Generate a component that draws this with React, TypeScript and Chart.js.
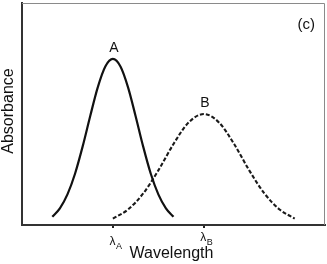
import { useEffect, useRef } from 'react';
import { Chart, registerables } from 'chart.js';

Chart.register(...registerables);

// Values (arbitrary units, 0..100 range)
const wavelengthA = [10, 12.5, 15, 17.5, 20, 22.5, 25, 27.5, 30, 32.5, 35, 37.5, 40, 42.5, 45, 47.5, 50];
const absorbanceA = [3.7, 7.5, 13.8, 23.1, 35.3, 49.0, 62.0, 71.4, 74.8, 71.4, 62.0, 49.0, 35.3, 23.1, 13.8, 7.5, 3.7];
const wavelengthB = [30, 35, 40, 45, 50, 55, 60, 65, 70, 75, 80, 85, 90];
const absorbanceB = [2.9, 7.0, 14.2, 24.6, 36.5, 46.2, 50.0, 46.2, 36.5, 24.6, 14.2, 7.0, 2.9];
const tickValues = [30, 60];
const tickSubscripts = ['A', 'B'];
const peakLabels = ['A', 'B'];
const xTitle = 'Wavelength';
const yTitle = 'Absorbance';
const panelLabel = '(c)';

const FONT = '"Liberation Sans", Arial, Helvetica, sans-serif';

const overlayPlugin = {
  id: 'overlay',
  afterDraw(chart: any) {
    const { ctx, chartArea } = chart;
    const xs = chart.scales.x;
    ctx.save();
    // top & right frame
    ctx.strokeStyle = '#8a8a8a';
    ctx.lineWidth = 1;
    ctx.beginPath();
    ctx.moveTo(chartArea.left, chartArea.top + 0.5);
    ctx.lineTo(chartArea.right - 0.5, chartArea.top + 0.5);
    ctx.lineTo(chartArea.right - 0.5, chartArea.bottom);
    ctx.stroke();

    ctx.fillStyle = '#111';
    // tick labels λ with subscripts
    tickValues.forEach((v, i) => {
      const px = xs.getPixelForValue(v);
      ctx.font = `12px ${FONT}`;
      ctx.textAlign = 'center';
      ctx.textBaseline = 'alphabetic';
      ctx.fillText('λ', px - 0.5, chartArea.bottom + 20 - i * 4);
      ctx.font = `9px ${FONT}`;
      ctx.textAlign = 'left';
      ctx.fillText(tickSubscripts[i], px + 3, chartArea.bottom + 24 - i * 4);
    });

    // axis titles
    ctx.font = `16px ${FONT}`;
    ctx.textAlign = 'center';
    ctx.textBaseline = 'alphabetic';
    ctx.fillText(xTitle, (chartArea.left + chartArea.right) / 2 - 2, chartArea.bottom + 33);
    ctx.textBaseline = 'middle';
    ctx.save();
    ctx.translate(9, (chartArea.top + chartArea.bottom) / 2 - 3);
    ctx.rotate(-Math.PI / 2);
    ctx.fillText(yTitle, 0, 0);
    ctx.restore();

    // peak labels
    ctx.font = `14px ${FONT}`;
    ctx.textAlign = 'center';
    ctx.textBaseline = 'bottom';
    chart.data.datasets.forEach((ds: any, di: number) => {
      const meta = chart.getDatasetMeta(di);
      let best = 0;
      ds.data.forEach((p: any, j: number) => {
        if (p.y > ds.data[best].y) best = j;
      });
      const el = meta.data[best];
      ctx.fillText(peakLabels[di], el.x + 1, el.y - 4);
    });

    // panel label
    ctx.font = `15px ${FONT}`;
    ctx.textAlign = 'right';
    ctx.textBaseline = 'middle';
    ctx.fillText(panelLabel, chartArea.right - 10, chartArea.top + 22);
    ctx.restore();
  },
};

export default function App() {
  const ref = useRef<HTMLCanvasElement>(null);
  useEffect(() => {
    const canvas = ref.current;
    if (!canvas) return;
    const chart = new Chart(canvas, {
      type: 'line',
      data: {
        datasets: [
          {
            data: wavelengthA.map((x, i) => ({ x, y: absorbanceA[i] })),
            borderColor: '#111',
            borderWidth: 2.2,
            pointRadius: 0,
            cubicInterpolationMode: 'monotone',
            fill: false,
          },
          {
            data: wavelengthB.map((x, i) => ({ x, y: absorbanceB[i] })),
            borderColor: '#1a1a1a',
            borderWidth: 2.1,
            borderDash: [4, 2],
            pointRadius: 0,
            cubicInterpolationMode: 'monotone',
            fill: false,
          },
        ],
      },
      options: {
        responsive: false,
        animation: false,
        events: [],
        layout: { padding: { top: 3, right: 2, left: 0, bottom: 0 } },
        plugins: { legend: { display: false }, tooltip: { enabled: false } },
        scales: {
          x: {
            type: 'linear',
            min: 0,
            max: 100,
            afterBuildTicks: (scale: any) => {
              scale.ticks = tickValues.map((v) => ({ value: v }));
            },
            afterFit: (scale: any) => {
              scale.height = 39;
            },
            ticks: { display: false },
            grid: {
              display: true,
              drawOnChartArea: false,
              drawTicks: true,
              tickLength: 3,
              color: '#222',
              lineWidth: 2,
            },
            border: { display: true, color: '#333', width: 2 },
          },
          y: {
            type: 'linear',
            min: 0,
            max: 100,
            afterFit: (scale: any) => {
              scale.width = 22;
            },
            ticks: { display: false },
            grid: { display: false, drawTicks: false },
            border: { display: true, color: '#333', width: 2 },
          },
        },
      },
      plugins: [overlayPlugin],
    } as any);
    return () => chart.destroy();
  }, []);
  return (
    <div style={{ position: 'fixed', left: 0, top: 0, width: 327, height: 264, background: '#fff' }}>
      <canvas ref={ref} width={327} height={264} />
    </div>
  );
}
